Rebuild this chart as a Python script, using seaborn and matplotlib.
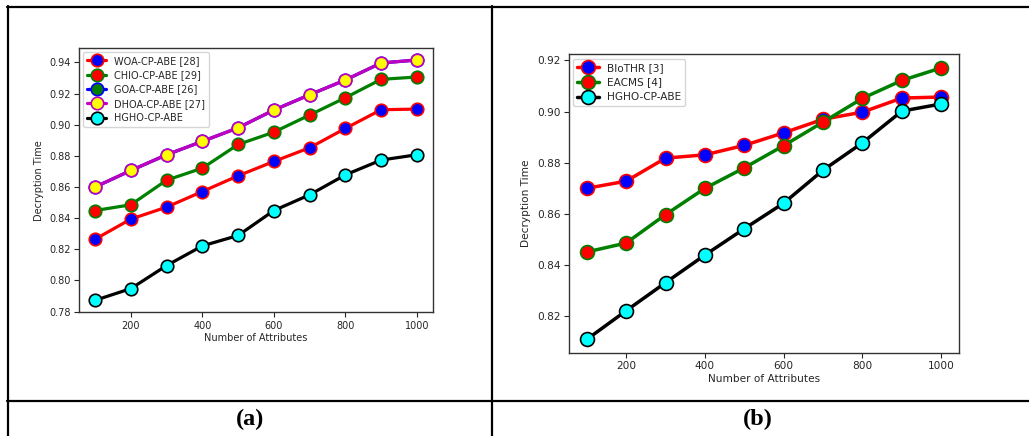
import matplotlib
matplotlib.use("Agg")
import matplotlib.pyplot as plt
import seaborn as sns
import pandas as pd
from matplotlib.lines import Line2D

# ---------------- data ----------------
attributes = [100, 200, 300, 400, 500, 600, 700, 800, 900, 1000]

# panel (a)
woa  = [0.8265, 0.8394, 0.8471, 0.8571, 0.8672, 0.8764, 0.8852, 0.8976, 0.9096, 0.9100]
chio = [0.8449, 0.8486, 0.8644, 0.8721, 0.8873, 0.8952, 0.9062, 0.9173, 0.9291, 0.9306]
goa  = [0.8600, 0.8706, 0.8807, 0.8893, 0.8980, 0.9094, 0.9192, 0.9287, 0.9396, 0.9415]
dhoa = [0.8600, 0.8706, 0.8807, 0.8893, 0.8980, 0.9094, 0.9192, 0.9287, 0.9396, 0.9415]
hgho_a = [0.7873, 0.7948, 0.8096, 0.8222, 0.8289, 0.8449, 0.8550, 0.8678, 0.8773, 0.8807]
labels_a = ["WOA-CP-ABE [28]", "CHIO-CP-ABE [29]", "GOA-CP-ABE [26]", "DHOA-CP-ABE [27]", "HGHO-CP-ABE"]

# panel (b)
biothr = [0.8700, 0.8728, 0.8818, 0.8831, 0.8868, 0.8917, 0.8970, 0.8998, 0.9053, 0.9057]
eacms  = [0.8451, 0.8486, 0.8597, 0.8700, 0.8780, 0.8867, 0.8959, 0.9052, 0.9122, 0.9171]
hgho_b = [0.8109, 0.8221, 0.8331, 0.8439, 0.8542, 0.8642, 0.8771, 0.8878, 0.9002, 0.9030]
labels_b = ["BIoTHR [3]", "EACMS [4]", "HGHO-CP-ABE"]

x_label = "Number of Attributes"
y_label = "Decryption Time"
panel_labels = ["(a)", "(b)"]

# ---------------- styles ----------------
# (line colour, marker face, marker edge)
styles_a = [("red", "blue", "red"),
            ("green", "red", "green"),
            ("blue", "green", "blue"),
            ("m", "yellow", "m"),
            ("black", "cyan", "black")]
styles_b = [("red", "blue", "red"),
            ("green", "red", "green"),
            ("black", "cyan", "black")]

sns.set_style("ticks")
plt.rcParams["font.family"] = ["DejaVu Sans"]
plt.rcParams["axes.edgecolor"] = "#333333"
plt.rcParams["axes.linewidth"] = 1.0

W, H = 1029, 436
fig = plt.figure(figsize=(W / 100, H / 100), dpi=100)
fig.patch.set_facecolor("white")

ax_a = fig.add_axes([79 / W, 1 - 312.3 / H, (433 - 79) / W, (312.3 - 48) / H])
ax_b = fig.add_axes([569 / W, 1 - 353 / H, (959 - 569) / W, (353 - 54.3) / H])


def draw(ax, series, labels, styles, fs, lw, ms):
    for ys, lab, (lc, mfc, mec) in zip(series, labels, styles):
        df = pd.DataFrame({"x": attributes, "y": ys})
        sns.lineplot(data=df, x="x", y="y", ax=ax, color=lc, linewidth=lw,
                     marker="o", label=lab, legend=False)
        ln = ax.lines[-1]
        ln.set_markersize(ms)
        ln.set_markerfacecolor(mfc)
        ln.set_markeredgecolor(mec)
        ln.set_markeredgewidth(1.2)
    ax.set_xlabel(x_label, fontsize=fs, color="#262626", labelpad=2)
    ax.set_ylabel(y_label, fontsize=fs, color="#262626", labelpad=4)
    ax.tick_params(labelsize=fs, colors="#262626", length=3.5, width=0.8, pad=2.5)
    ax.set_xticks([200, 400, 600, 800, 1000])
    for s in ax.spines.values():
        s.set_visible(True)
    ax.legend(loc="upper left", fontsize=fs, frameon=True, framealpha=0.8,
              borderaxespad=0.4, handlelength=2.0, labelspacing=0.45)
    ax.grid(False)


draw(ax_a, [woa, chio, goa, dhoa, hgho_a], labels_a, styles_a, 7.0, 2.3, 9.0)
ax_a.set_yticks([0.78, 0.80, 0.82, 0.84, 0.86, 0.88, 0.90, 0.92, 0.94])
ax_a.set_yticklabels([f"{v:.2f}" for v in ax_a.get_yticks()])

draw(ax_b, [biothr, eacms, hgho_b], labels_b, styles_b, 7.6, 2.5, 10.0)
ax_b.set_yticks([0.82, 0.84, 0.86, 0.88, 0.90, 0.92])
ax_b.set_yticklabels([f"{v:.2f}" for v in ax_b.get_yticks()])

# ---------------- table frame ----------------
lw_tab = 1.6
def fx(px):
    return px / W
def fy(py):
    return 1 - py / H

fig.add_artist(Line2D([fx(7), fx(1035)], [fy(7), fy(7)], color="black", lw=lw_tab))
fig.add_artist(Line2D([fx(7), fx(1035)], [fy(401), fy(401)], color="black", lw=lw_tab))
fig.add_artist(Line2D([fx(8), fx(8)], [fy(6.5), fy(440)], color="black", lw=lw_tab))
fig.add_artist(Line2D([fx(492), fx(492)], [fy(6.5), fy(440)], color="black", lw=lw_tab))

fig.text(fx(250), fy(419), panel_labels[0], ha="center", va="center", color="black",
         fontsize=17.5, fontweight="bold", family=["Liberation Serif"])
fig.text(fx(758), fy(419), panel_labels[1], ha="center", va="center", color="black",
         fontsize=17.5, fontweight="bold", family=["Liberation Serif"])

fig.savefig("out.png", dpi=100)
